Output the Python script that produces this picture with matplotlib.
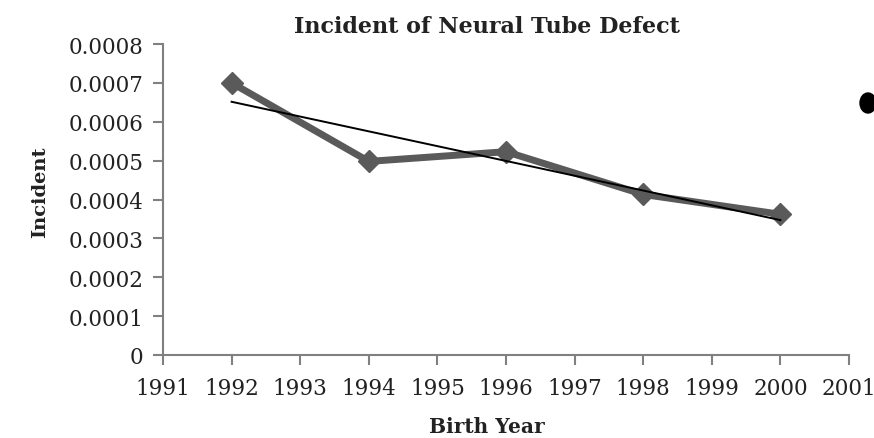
import numpy as np
import matplotlib
matplotlib.use("Agg")
import matplotlib.pyplot as plt
from matplotlib.patches import Ellipse

# data
years = [1992, 1994, 1996, 1998, 2000]
incident = [0.00070, 0.000498, 0.000523, 0.000413, 0.000362]
x_ticks = list(range(1991, 2002))
y_ticks = [0, 0.0001, 0.0002, 0.0003, 0.0004, 0.0005, 0.0006, 0.0007, 0.0008]
y_labels = ["0", "0.0001", "0.0002", "0.0003", "0.0004", "0.0005", "0.0006", "0.0007", "0.0008"]

plt.rcParams["font.family"] = ["DejaVu Serif"]

fig = plt.figure(figsize=(8.74, 4.39), dpi=100)
ax = fig.add_axes([163 / 874, 1 - 356 / 439, (849 - 163) / 874, (356 - 45) / 439])

ax.plot(years, incident, color="#5a5a5a", lw=5, marker="D", ms=11,
        markerfacecolor="#5a5a5a", markeredgecolor="#5a5a5a", zorder=2)

# linear trend line
coef = np.polyfit(years, incident, 1)
xs = np.array([years[0], years[-1]])
ax.plot(xs, np.polyval(coef, xs), color="black", lw=1.4, zorder=3)

ax.set_xlim(1991, 2001)
ax.set_ylim(0, 0.0008)
ax.set_xticks(x_ticks)
ax.set_yticks(y_ticks)
ax.set_yticklabels(y_labels)
ax.tick_params(axis="both", direction="out", length=7, width=1.5, colors="#808080",
               labelcolor="#222222", labelsize=15.5)
ax.tick_params(axis="x", pad=9)
ax.tick_params(axis="y", pad=7)
for s in ["top", "right"]:
    ax.spines[s].set_visible(False)
for s in ["left", "bottom"]:
    ax.spines[s].set_color("#808080")
    ax.spines[s].set_linewidth(1.5)

fig.text(487 / 874, 1 - 27 / 439, "Incident of Neural Tube Defect", ha="center", va="center",
         fontsize=16, fontweight="bold", color="#222222")
fig.text(40 / 874, 1 - 192 / 439, "Incident", ha="center", va="center", rotation=90,
         fontsize=14, fontweight="bold", color="#222222")
fig.text(487 / 874, 1 - 427 / 439, "Birth Year", ha="center", va="center",
         fontsize=14.5, fontweight="bold", color="#222222")

# bullet at the right edge
fig.patches.append(Ellipse((868 / 874, 1 - 104 / 439), 16 / 874, 20 / 439,
                           transform=fig.transFigure, color="black"))

fig.savefig("out.png", dpi=100)
